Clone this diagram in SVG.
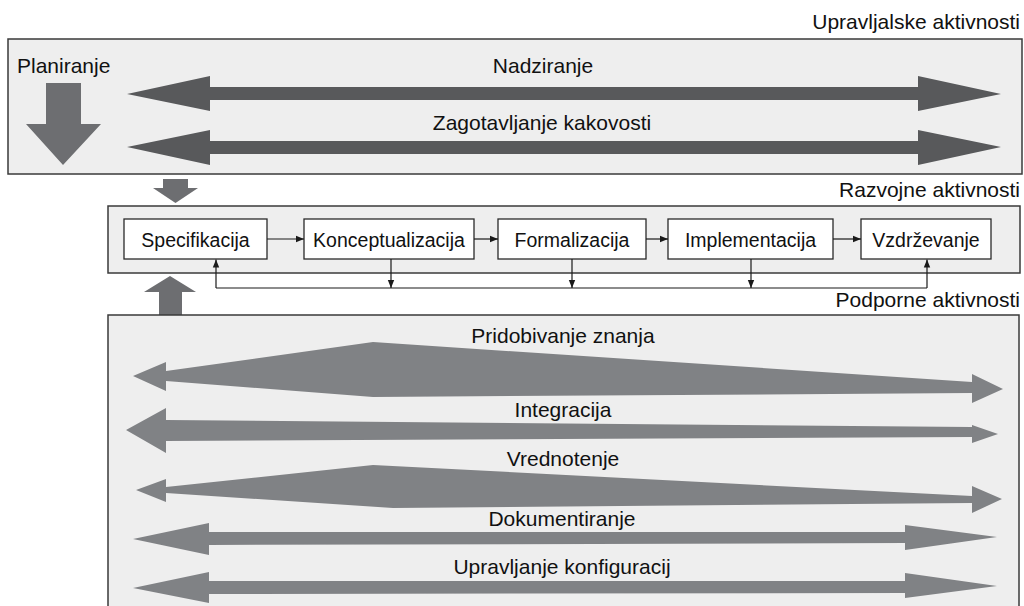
<svg xmlns="http://www.w3.org/2000/svg" width="1024" height="606" viewBox="0 0 1024 606">
<style>
text{font-family:"Liberation Sans",Arial,Helvetica,sans-serif;fill:#111;}
.lbl{font-size:21px;}
.hdr{font-size:21px;text-anchor:end;}
.c{text-anchor:middle;}
.box{fill:#eeeeee;stroke:#3a3a3a;stroke-width:1.5;}
.node{fill:#ffffff;stroke:#2a2a2a;stroke-width:1.3;}
.ntxt{font-size:19.5px;text-anchor:middle;}
.dark{fill:#58595b;}
.mid{fill:#6d6e71;}
.light{fill:#808285;}
.conn{fill:none;stroke:#1a1a1a;stroke-width:1.2;}
</style>
<defs>
<marker id="ah" viewBox="0 0 8 8" refX="8" refY="4" markerWidth="8" markerHeight="8" markerUnits="userSpaceOnUse" orient="auto">
<path d="M0,0.8 L8,4 L0,7.2 Z" fill="#1a1a1a"/>
</marker>
</defs>

<rect width="1024" height="606" fill="#ffffff"/>

<g id="upravljalske">
<rect class="box" x="8" y="39" width="1014" height="135"/>
<text class="hdr" x="1020" y="29">Upravljalske aktivnosti</text>
<text class="lbl" x="17" y="73">Planiranje</text>
<polygon class="mid" points="46,83 81,83 81,124 101,124 63,165 26,124 46,124"/>
<polygon class="dark" points="127,94 210,76 210,87 918,87 918,76 1001,94 918,111 918,100 210,100 210,111"/>
<text class="lbl c" x="543" y="73">Nadziranje</text>
<polygon class="dark" points="127,147 210,130 210,141 918,141 918,130 1001,147 918,165 918,154 210,154 210,165"/>
<text class="lbl c" x="542" y="130">Zagotavljanje kakovosti</text>
</g>

<g id="arrow-down">
<polygon class="mid" points="163,179 188,179 188,188 198,188 175.5,203 153,188 163,188"/>
</g>

<g id="razvojne">
<rect class="box" x="108" y="206" width="912" height="67"/>
<text class="hdr" x="1020" y="197">Razvojne aktivnosti</text>
</g>

<g id="specifikacija">
<rect class="node" x="124" y="219" width="143" height="40"/>
<text class="ntxt" x="195.5" y="247">Specifikacija</text>
</g>
<g id="konceptualizacija">
<rect class="node" x="304" y="219" width="170" height="40"/>
<text class="ntxt" x="389" y="247">Konceptualizacija</text>
</g>
<g id="formalizacija">
<rect class="node" x="498" y="219" width="148" height="40"/>
<text class="ntxt" x="572" y="247">Formalizacija</text>
</g>
<g id="implementacija">
<rect class="node" x="668" y="219" width="165" height="40"/>
<text class="ntxt" x="750.5" y="247">Implementacija</text>
</g>
<g id="vzdrzevanje">
<rect class="node" x="861" y="219" width="130" height="40"/>
<text class="ntxt" x="926" y="247">Vzdrževanje</text>
</g>

<g id="connectors">
<line class="conn" x1="267" y1="239" x2="304" y2="239" marker-end="url(#ah)"/>
<line class="conn" x1="474" y1="239" x2="498" y2="239" marker-end="url(#ah)"/>
<line class="conn" x1="646" y1="239" x2="668" y2="239" marker-end="url(#ah)"/>
<line class="conn" x1="833" y1="239" x2="861" y2="239" marker-end="url(#ah)"/>
<polyline class="conn" points="216,288 216,259.5" marker-end="url(#ah)"/>
<line class="conn" x1="216" y1="288" x2="927" y2="288"/>
<polyline class="conn" points="927,288 927,259.5" marker-end="url(#ah)"/>
<line class="conn" x1="391" y1="259" x2="391" y2="288" marker-end="url(#ah)"/>
<line class="conn" x1="572" y1="259" x2="572" y2="288" marker-end="url(#ah)"/>
<line class="conn" x1="751" y1="259" x2="751" y2="288" marker-end="url(#ah)"/>
</g>

<g id="arrow-up">
<polygon class="mid" points="170,276 196,292 182,292 182,315 159,315 159,292 144,292"/>
</g>

<g id="podporne">
<rect class="box" x="108" y="315" width="911" height="300"/>
<text class="hdr" x="1020" y="307">Podporne aktivnosti</text>
<polygon class="light" points="133,376 166,362 166,371 373,342 972,382 972,374 1003,389 972,403 972,393 373,397 166,381 166,391"/>
<text class="lbl c" x="563" y="343">Pridobivanje znanja</text>
<polygon class="light" points="126,430 166,408 166,420 972,427 972,425 998,434 972,443 972,437 166,441 166,453"/>
<text class="lbl c" x="563" y="417">Integracija</text>
<polygon class="light" points="136,490 166,479 166,487 373,465 972,496 972,486 1002,499 972,513 972,503 393,508 166,493 166,502"/>
<text class="lbl c" x="563" y="466">Vrednotenje</text>
<polygon class="light" points="133,539 209,523 209,532 905,532 905,525 997,537 905,550 905,543 209,545 209,555"/>
<text class="lbl c" x="562" y="526">Dokumentiranje</text>
<polygon class="light" points="133,588 209,572 209,581 905,581 905,573 997,586 905,598 905,593 209,594 209,603"/>
<text class="lbl c" x="562" y="574">Upravljanje konfiguracij</text>
</g>
</svg>
